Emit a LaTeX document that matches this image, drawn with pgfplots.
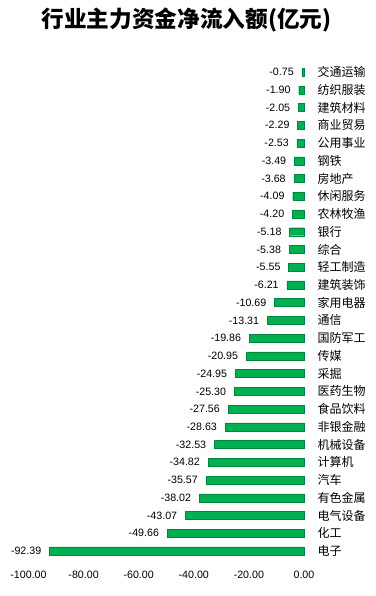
\documentclass[border=0pt]{standalone}
\usepackage{pgfplots}
\pgfplotsset{compat=1.18}
\usepackage{pgfplotstable}
\usepackage{fontspec}
\setmainfont{Liberation Sans}
\newfontfamily\cjk{Noto Sans CJK SC}
\definecolor{barG}{RGB}{0,176,80}
\definecolor{barD}{RGB}{0,135,60}

\pgfplotstableread{
y v
0 -92.39
1 -49.66
2 -43.07
3 -38.02
4 -35.57
5 -34.82
6 -32.53
7 -28.63
8 -27.56
9 -25.30
10 -24.95
11 -20.95
12 -19.86
13 -13.31
14 -10.69
15 -6.21
16 -5.55
17 -5.38
18 -5.18
19 -4.20
20 -4.09
21 -3.68
22 -3.49
23 -2.53
24 -2.29
25 -2.05
26 -1.90
27 -0.75
}\data

\begin{document}
\begin{tikzpicture}
\useasboundingbox (-21.375pt,-27.1pt) rectangle (259.875pt,419.9pt);
\node[font=\cjk\bfseries\fontsize{17}{20}\selectfont] at (118.6pt,404.9pt) {行业主力资金净流入额(亿元)};
\begin{axis}[
 at={(0,0)}, anchor=south west,
 scale only axis, width=206.6pt, height=372.5pt,
 xmin=-100, xmax=0, ymin=-0.5, ymax=27.5,
 xbar, bar width=6pt,
 axis line style={draw=none},
 major tick length=0pt,
 xtick={-100,-80,-60,-40,-20,0},
 xticklabels={-100.00,-80.00,-60.00,-40.00,-20.00,0.00},
 xticklabel style={font=\fontsize{8}{9}\selectfont, anchor=base, yshift=-14.3pt},
 ytick={0,...,27},
 yticklabels={电子,化工,电气设备,有色金属,汽车,计算机,机械设备,非银金融,食品饮料,医药生物,采掘,传媒,国防军工,通信,家用电器,建筑装饰,轻工制造,综合,银行,农林牧渔,休闲服务,房地产,钢铁,公用事业,商业贸易,建筑材料,纺织服装,交通运输},
 yticklabel pos=right,
 yticklabel style={font=\cjk\fontsize{9}{10}\selectfont, anchor=west, inner sep=0pt, xshift=10pt},
 point meta=x,
 nodes near coords={\pgfmathprintnumber[fixed,fixed zerofill,precision=2,assume math mode=true]{\pgfplotspointmeta}},
 nodes near coords style={font=\fontsize{8}{9}\selectfont, anchor=east, inner sep=0pt, xshift=-6pt},
 clip=false,
]
\addplot[fill=barG, draw=barD, line width=0.3pt] table[x=v,y=y]{\data};
\end{axis}
\end{tikzpicture}
\end{document}
